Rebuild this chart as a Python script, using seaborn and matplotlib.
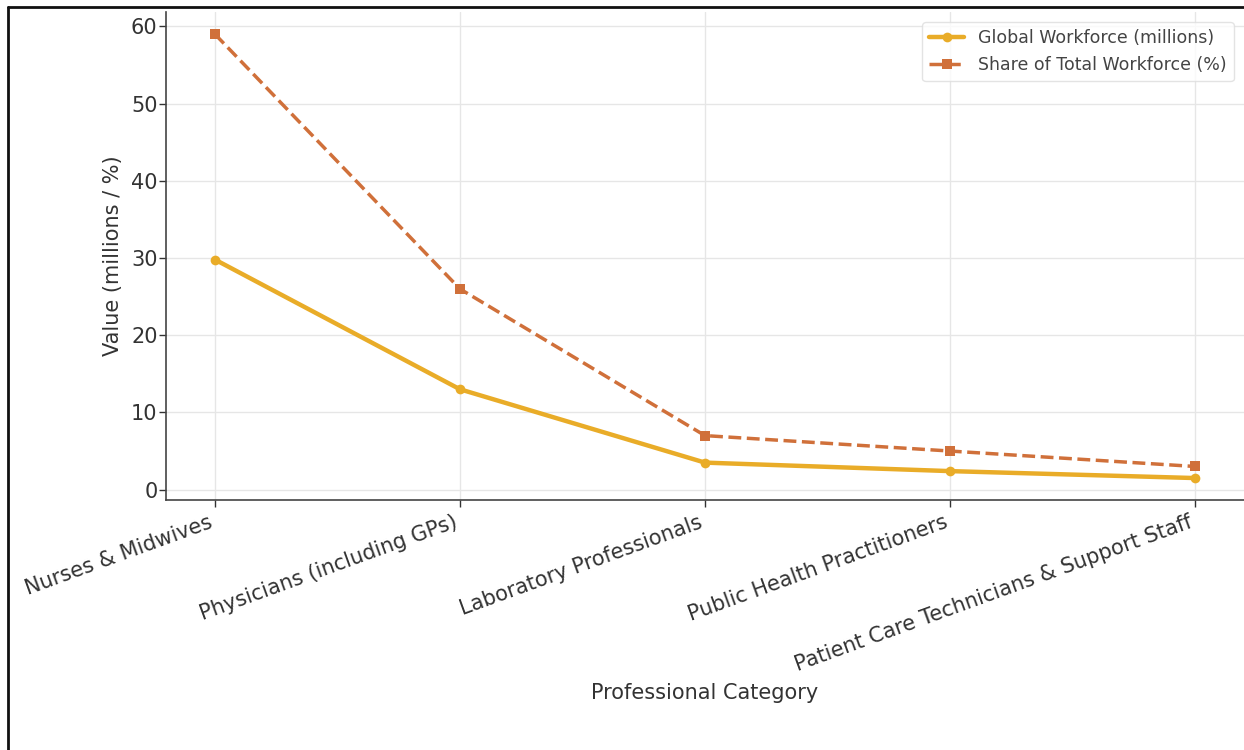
import matplotlib
matplotlib.use("Agg")
import matplotlib.pyplot as plt
from matplotlib.lines import Line2D
import seaborn as sns
import pandas as pd

categories = ["Nurses & Midwives", "Physicians (including GPs)", "Laboratory Professionals",
              "Public Health Practitioners", "Patient Care Technicians & Support Staff"]
workforce_millions = [29.8, 13.0, 3.5, 2.4, 1.5]
share_percent = [59, 26, 7, 5, 3]

sns.set_theme(style="whitegrid")
plt.rcParams['font.family'] = ['DejaVu Sans']

df = pd.DataFrame({"category": categories,
                   "workforce": workforce_millions,
                   "share": share_percent})

fig = plt.figure(figsize=(12.44, 7.5), dpi=100)
ax = fig.add_axes([0.1334, 0.333, 0.8666, 0.651])

sns.lineplot(data=df, x="category", y="workforce", ax=ax, sort=False,
             color="#E9AC28", linewidth=3.2, marker="o", markersize=7,
             markeredgewidth=0, label="Global Workforce (millions)")
sns.lineplot(data=df, x="category", y="share", ax=ax, sort=False,
             color="#D0703A", linewidth=2.5, linestyle="--", marker="s",
             markersize=7, markeredgewidth=0, label="Share of Total Workforce (%)")

ax.set_xlabel("Professional Category", fontsize=15, color="#333333", labelpad=6)
ax.set_ylabel("Value (millions / %)", fontsize=15, color="#333333", labelpad=6)
ax.tick_params(axis="both", labelsize=15, colors="#333333", length=5, width=1,
               bottom=True, left=True)
ax.tick_params(axis="y", pad=1)
plt.setp(ax.get_xticklabels(), rotation=20, ha="right")

ax.grid(True, color="#e6e6e6", linewidth=1)
for s in ["top", "right"]:
    ax.spines[s].set_visible(False)
for s in ["left", "bottom"]:
    ax.spines[s].set_color("#444444")
    ax.spines[s].set_linewidth(1.2)

leg = ax.legend(loc="upper right", fontsize=12.5, frameon=True, borderaxespad=0.6)
leg.get_frame().set_edgecolor("#dddddd")
for t in leg.get_texts():
    t.set_color("#444444")

# border lines on top and left of the picture
fig.add_artist(Line2D([8 / 1244, 8 / 1244], [0, 1 - 7 / 750], color="#111111", linewidth=2))
fig.add_artist(Line2D([8 / 1244, 1], [1 - 7 / 750, 1 - 7 / 750], color="#111111", linewidth=2))

fig.savefig("out.png", dpi=100)
